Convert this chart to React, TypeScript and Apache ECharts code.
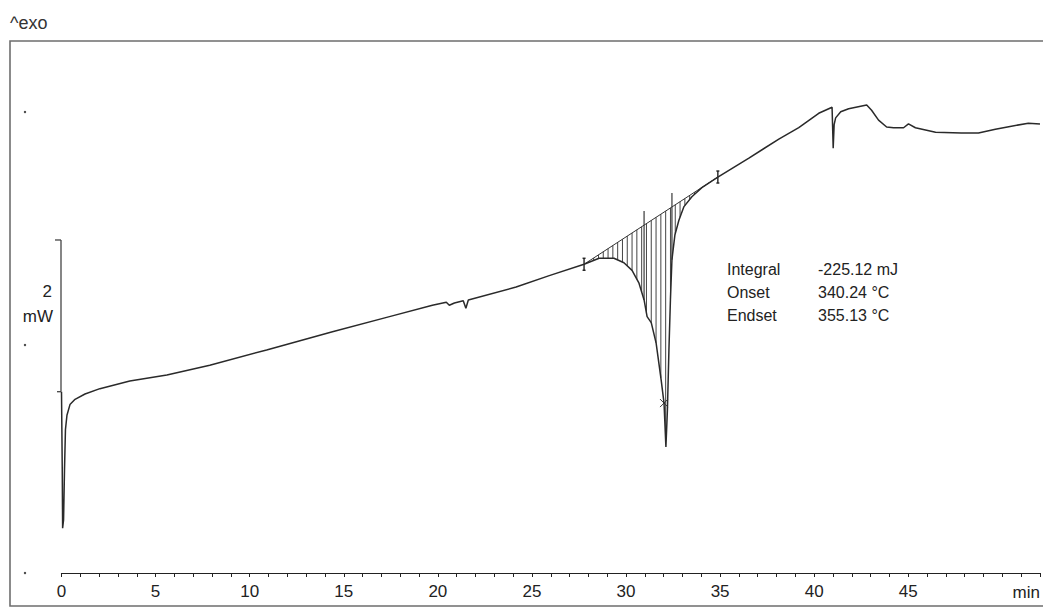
import React, { useEffect, useRef } from "react";
import * as echarts from "echarts";

// DSC curve: time (min) vs heat flow (mW, arbitrary offset)
const timeMin = [
  0, 0.04, 0.06, 0.11, 0.16, 0.21, 0.29, 0.45, 0.72, 1.25, 2.04, 3.63, 5.6, 7.88, 10.9, 14.4, 17.43, 19.71,
  20.45, 20.61, 20.88, 21.35, 21.49, 21.62, 24.16, 25.92, 27.77, 28.57, 29.36, 29.89, 30.32, 30.69, 30.96,
  31.12, 31.34, 31.6, 31.87, 32.02, 32.12, 32.2, 32.28, 32.36, 32.44, 32.6, 32.81, 33.08, 33.5, 34.03, 34.88,
  36.53, 38.12, 39.18, 40.24, 40.95, 41.01, 41.06, 41.14, 41.41, 41.83, 42.79, 43.05, 43.42, 43.85, 44.22,
  44.75, 45.01, 45.38, 46.45, 47.82, 48.73, 49.63, 50.48, 51.38, 52.0,
];
const heatFlow = [
  2.39, 1.36, 0.59, 0.7, 1.36, 1.89, 2.08, 2.22, 2.29, 2.36, 2.43, 2.53, 2.61, 2.74, 2.94, 3.18, 3.38, 3.53,
  3.57, 3.53, 3.56, 3.59, 3.49, 3.6, 3.77, 3.92, 4.07, 4.15, 4.15, 4.09, 3.99, 3.82, 3.6,
  3.38, 3.3, 3.03, 2.54, 2.24, 1.66, 2.15, 2.94, 3.6, 4.13, 4.46, 4.65, 4.83, 4.96, 5.08, 5.22,
  5.47, 5.72, 5.87, 6.06, 6.14, 5.6, 5.91, 6.0, 6.08, 6.12, 6.17, 6.1, 5.97, 5.88, 5.87,
  5.87, 5.92, 5.87, 5.81, 5.8, 5.8, 5.85, 5.89, 5.93, 5.92,
];

// integration baseline (start / end)
const baseT = [27.77, 34.88];
const baseV = [4.07, 5.22];
// onset / endset indicator times
const markerTimes = [30.96, 32.44];
// peak marker
const peakMark = [32.02, 2.24];
// scale bar: 2 mW
const scaleBarT = 0;
const scaleBarV = [2.39, 4.39];
const scaleBarLabel = ["2", "mW"];

const xLabels = [0, 5, 10, 15, 20, 25, 30, 35, 40, 45];

const resultLabels = ["Integral", "Onset", "Endset"];
const resultValues = ["-225.12 mJ", "340.24 °C", "355.13 °C"];

const FONT = "'Liberation Sans', Arial, sans-serif";
const INK = "#222";

export default function App() {
  const ref = useRef<HTMLDivElement>(null);

  useEffect(() => {
    if (!ref.current) return;
    const chart = echarts.init(ref.current, null, { renderer: "svg" });

    const renderOverlay = (params: any, api: any) => {
      const children: any[] = [];
      const pts = timeMin.map((t, i) => api.coord([t, heatFlow[i]]));
      const p0 = api.coord([baseT[0], baseV[0]]);
      const p1 = api.coord([baseT[1], baseV[1]]);
      const baseY = (x: number) => p0[1] + ((p1[1] - p0[1]) * (x - p0[0])) / (p1[0] - p0[0]);
      const curveY = (x: number) => {
        for (let i = 0; i < pts.length - 1; i++) {
          const a = pts[i];
          const b = pts[i + 1];
          if (a[0] <= x && b[0] >= x && b[0] > a[0]) {
            return a[1] + ((b[1] - a[1]) * (x - a[0])) / (b[0] - a[0]);
          }
        }
        return baseY(x);
      };
      const lineStyle = { stroke: "#3a3a3a", lineWidth: 1 };
      // hatching between curve and baseline
      for (let x = p0[0] + 4.8; x < p1[0] - 1; x += 4.8) {
        children.push({
          type: "line",
          shape: { x1: x, y1: baseY(x), x2: x, y2: curveY(x) },
          style: { stroke: "#444", lineWidth: 1 },
        });
      }
      // onset / endset indicator lines
      markerTimes.forEach((t) => {
        const x = api.coord([t, 0])[0];
        children.push({
          type: "line",
          shape: { x1: x, y1: curveY(x), x2: x, y2: baseY(x) - 14 },
          style: { stroke: "#555", lineWidth: 1.4 },
        });
      });
      // baseline end markers
      [p0, p1].forEach((p) => {
        children.push({ type: "line", shape: { x1: p[0], y1: p[1] - 6, x2: p[0], y2: p[1] + 6 }, style: { stroke: INK, lineWidth: 1.4 } });
        children.push({ type: "line", shape: { x1: p[0] - 1.5, y1: p[1] - 6, x2: p[0] + 1.5, y2: p[1] - 6 }, style: { stroke: INK, lineWidth: 1.4 } });
        children.push({ type: "line", shape: { x1: p[0] - 1.5, y1: p[1] + 6, x2: p[0] + 1.5, y2: p[1] + 6 }, style: { stroke: INK, lineWidth: 1.4 } });
      });
      // peak marker "x"
      const pm = api.coord(peakMark);
      children.push({ type: "line", shape: { x1: pm[0] - 4, y1: pm[1] - 4, x2: pm[0] + 4, y2: pm[1] + 4 }, style: lineStyle });
      children.push({ type: "line", shape: { x1: pm[0] - 4, y1: pm[1] + 4, x2: pm[0] + 4, y2: pm[1] - 4 }, style: lineStyle });
      // scale bar
      const sb0 = api.coord([scaleBarT, scaleBarV[0]]);
      const sb1 = api.coord([scaleBarT, scaleBarV[1]]);
      const sx = sb0[0] - 0.5;
      children.push({ type: "line", shape: { x1: sx, y1: sb0[1], x2: sx, y2: sb1[1] }, style: { stroke: "#444", lineWidth: 1.3 } });
      children.push({ type: "line", shape: { x1: sx - 6, y1: sb1[1], x2: sx, y2: sb1[1] }, style: { stroke: "#444", lineWidth: 1.3 } });
      children.push({ type: "line", shape: { x1: sx - 4, y1: sb0[1], x2: sx, y2: sb0[1] }, style: { stroke: "#444", lineWidth: 1.3 } });
      children.push({
        type: "text",
        x: sx - 9,
        y: sb1[1] + 52,
        style: { text: scaleBarLabel[0], fill: INK, font: `17px ${FONT}`, align: "right", verticalAlign: "middle" },
      });
      children.push({
        type: "text",
        x: sx - 8,
        y: sb1[1] + 77,
        style: { text: scaleBarLabel[1], fill: INK, font: `17px ${FONT}`, align: "right", verticalAlign: "middle" },
      });
      return { type: "group", children };
    };

    const resultTexts: any[] = [];
    resultLabels.forEach((lab, i) => {
      resultTexts.push({
        type: "text",
        left: 727,
        top: 261 + i * 23,
        style: { text: lab, fill: INK, font: `16px ${FONT}` },
      });
      resultTexts.push({
        type: "text",
        left: 818,
        top: 261 + i * 23,
        style: { text: resultValues[i], fill: INK, font: `16px ${FONT}` },
      });
    });

    chart.setOption({
      animation: false,
      backgroundColor: "#ffffff",
      grid: { left: 61.5, right: 1.5, top: 42, bottom: 37 },
      xAxis: {
        type: "value",
        min: 0,
        max: 52,
        interval: 1,
        axisLine: { lineStyle: { color: INK, width: 1.2 } },
        axisTick: { length: 4, lineStyle: { color: INK, width: 1 } },
        axisLabel: { customValues: xLabels, fontSize: 17, color: INK, margin: 10, fontFamily: FONT },
        splitLine: { show: false },
        name: "min",
        nameLocation: "end",
        nameGap: 0,
        nameTextStyle: {
          align: "right",
          verticalAlign: "top",
          padding: [11, 0, 0, 0],
          fontSize: 17,
          color: INK,
          fontFamily: FONT,
        },
      },
      yAxis: { type: "value", min: 0, max: 7, show: false },
      series: [
        {
          type: "custom",
          coordinateSystem: "cartesian2d",
          clip: false,
          silent: true,
          z: 1,
          data: [[0, 0]],
          renderItem: renderOverlay,
        },
        {
          type: "line",
          data: [
            [baseT[0], baseV[0]],
            [baseT[1], baseV[1]],
          ],
          showSymbol: false,
          lineStyle: { color: "#333", width: 1 },
          z: 2,
        },
        {
          type: "line",
          data: timeMin.map((t, i) => [t, heatFlow[i]]),
          showSymbol: false,
          lineStyle: { color: "#2a2a2a", width: 1.5 },
          z: 3,
        },
      ],
      graphic: [
        {
          type: "rect",
          shape: { x: 10, y: 41, width: 1050, height: 565 },
          style: { fill: "none", stroke: "#6e6e6e", lineWidth: 1.6 },
          silent: true,
        },
        {
          type: "text",
          left: 10,
          top: 14,
          style: { text: "^exo", fill: "#333", font: `18px ${FONT}` },
        },
        { type: "circle", shape: { cx: 25, cy: 112, r: 1.2 }, style: { fill: "#444" } },
        { type: "circle", shape: { cx: 25, cy: 345, r: 1.2 }, style: { fill: "#444" } },
        { type: "circle", shape: { cx: 25, cy: 573, r: 1.2 }, style: { fill: "#444" } },
        ...resultTexts,
      ],
    });

    return () => chart.dispose();
  }, []);

  return <div ref={ref} style={{ position: "absolute", left: 0, top: 0, width: 1043, height: 610 }} />;
}
